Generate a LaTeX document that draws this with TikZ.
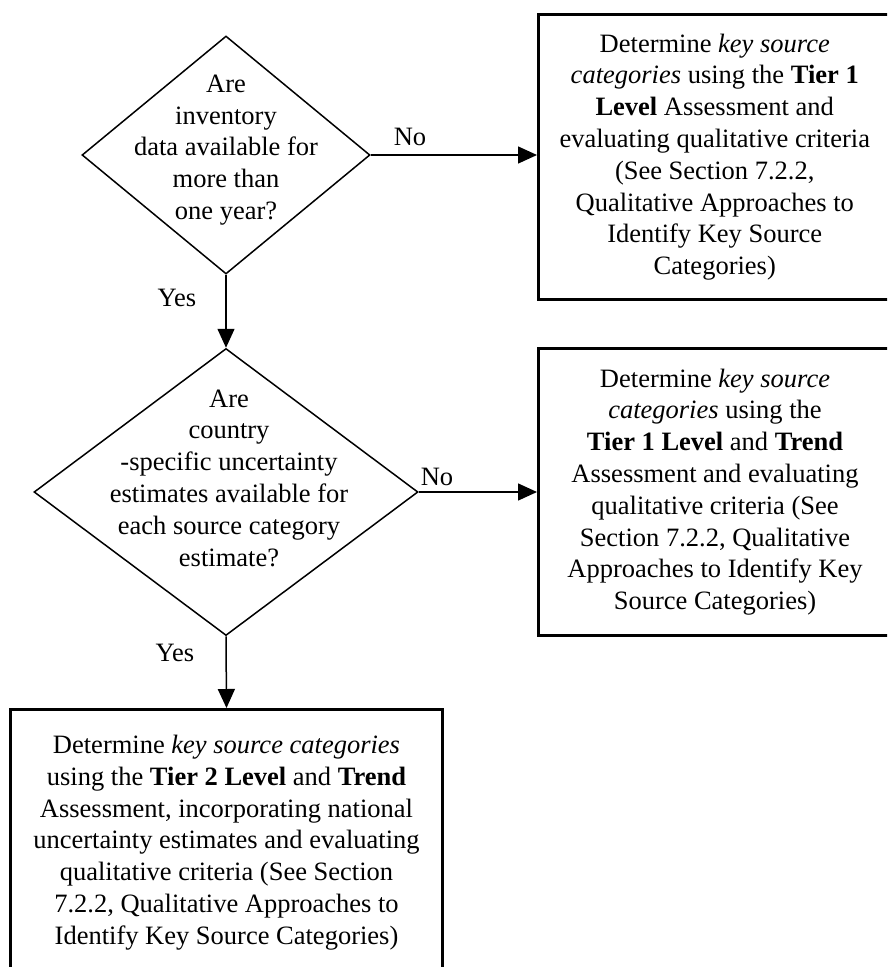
\documentclass[tikz,border=0pt]{standalone}
\usepackage{fontspec}
\setmainfont{Liberation Serif}
\usetikzlibrary{shapes.geometric,arrows.meta}
\begin{document}
\begin{tikzpicture}[x=1pt,y=-1pt,
  every node/.style={font=\fontsize{26.5}{31.8}\selectfont},
  decision/.style={draw,diamond,line width=1.5pt,inner sep=0pt,aspect=1},
  qtext/.style={align=center,inner sep=0pt},
  actbox/.style={draw,rectangle,line width=3pt,align=center,inner sep=0pt},
  lbl/.style={inner sep=0pt},
  conn/.style={line width=1.5pt,-{Triangle[length=19pt,width=17pt]}}]
\useasboundingbox (0,0) rectangle (887,967);
\clip (0,0) rectangle (887,967);
\fill[white] (0,0) rectangle (887,967);

\node[decision,minimum width=288pt,minimum height=238pt] (d1) at (226,155) {};
\node[qtext] (t1) at (226,150) {Are\\inventory\\data available for\\more than\\one year?};

\node[decision,minimum width=384pt,minimum height=287pt] (d2) at (226,492) {};
\node[qtext] (t2) at (229,478) {Are\\country\\-specific uncertainty\\estimates available for\\each source category\\estimate?};

\node[actbox,minimum width=352.5pt,minimum height=285pt] (b1) at (714.75,157) {Determine \textit{key source}\\\textit{categories} using the \textbf{Tier 1}\\\textbf{Level} Assessment and\\evaluating qualitative criteria\\(See Section 7.2.2,\\Qualitative Approaches to\\Identify Key Source\\Categories)};

\node[actbox,minimum width=353pt,minimum height=287pt] (b2) at (715,492) {Determine \textit{key source}\\\textit{categories} using the\\\textbf{Tier 1 Level} and \textbf{Trend}\\Assessment and evaluating\\qualitative criteria (See\\Section 7.2.2, Qualitative\\Approaches to Identify Key\\Source Categories)};

\node[actbox,minimum width=432pt,minimum height=266pt] (b3) at (226.5,842.5) {Determine \textit{key source categories}\\using the \textbf{Tier 2 Level} and \textbf{Trend}\\Assessment, incorporating national\\uncertainty estimates and evaluating\\qualitative criteria (See Section\\7.2.2, Qualitative Approaches to\\Identify Key Source Categories)};

\draw[conn] (d1.east) -- (d1.east -| b1.west);
\draw[conn] (d2.east) -- (d2.east -| b2.west);
\draw[conn] (d1.south) -- (d2.north);
\draw[conn] (d2.south) -- (b3.north);

\node[lbl] (no1) at (410,137) {No};
\node[lbl] (no2) at (437,477) {No};
\node[lbl] (yes1) at (177,298) {Yes};
\node[lbl] (yes2) at (175,653) {Yes};
\end{tikzpicture}
\end{document}
